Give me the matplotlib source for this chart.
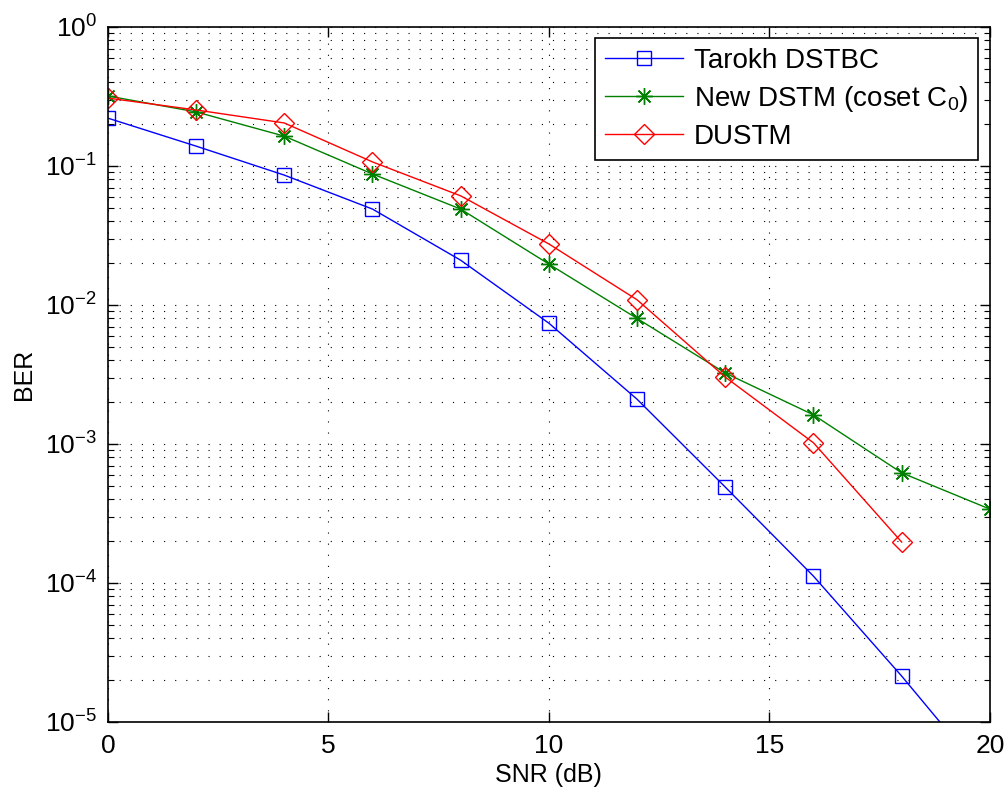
import numpy as np
import matplotlib.pyplot as plt
from matplotlib.ticker import LogLocator, NullFormatter, MultipleLocator

plt.rcParams['font.family'] = ['Liberation Sans', 'DejaVu Sans']
plt.rcParams['mathtext.fontset'] = 'custom'
plt.rcParams['mathtext.rm'] = 'Liberation Sans'
plt.rcParams['mathtext.it'] = 'Liberation Sans'

# Dados (SNR em dB)
snr = [0, 2, 4, 6, 8, 10, 12, 14, 16, 18, 20]
ber_tarokh = [0.221, 0.139, 0.086, 0.049, 0.021, 0.0074, 0.0021, 4.9e-4, 1.12e-4, 2.14e-5, 3.7e-6]
ber_dstm = [0.319, 0.245, 0.164, 0.0876, 0.049, 0.0197, 0.0080, 0.00324, 0.00162, 6.2e-4, 3.4e-4]
snr_dustm = [0, 2, 4, 6, 8, 10, 12, 14, 16, 18]
ber_dustm = [0.308, 0.253, 0.204, 0.107, 0.061, 0.0275, 0.0109, 0.00303, 0.00102, 1.97e-4]

fig = plt.figure(figsize=(10.08, 7.94), dpi=100)
ax = fig.add_axes([0.107, 0.0907, 0.875, 0.8753])

ax.semilogy(snr, ber_tarokh, '-', color=(0, 0, 1), marker='s', markersize=10,
            markerfacecolor='none', markeredgewidth=1, linewidth=1, label='Tarokh DSTBC')
ax.semilogy(snr, ber_dstm, '-', color=(0, 0.5, 0), marker=(8, 2, 0), markersize=12,
            markeredgewidth=1, linewidth=1, label='New DSTM (coset C$_0$)')
ax.semilogy(snr_dustm, ber_dustm, '-', color=(1, 0, 0), marker='D', markersize=10,
            markerfacecolor='none', markeredgewidth=1, linewidth=1, label='DUSTM')

ax.set_xlim(0, 20)
ax.set_ylim(1e-5, 1)
ax.xaxis.set_major_locator(MultipleLocator(5))
ax.yaxis.set_major_locator(LogLocator(base=10, numticks=10))
ax.yaxis.set_minor_locator(LogLocator(base=10, subs=np.arange(2, 10), numticks=20))
ax.yaxis.set_minor_formatter(NullFormatter())

# Grade pontilhada estilo MATLAB
ax.grid(True, which='major', axis='both', color='k', linewidth=0.8, dashes=(1, 9))
ax.grid(True, which='minor', axis='y', color='k', linewidth=0.8, dashes=(1, 9))

ax.tick_params(which='both', direction='in', top=True, right=True, labelsize=19)
ax.tick_params(which='major', length=7, width=1)
ax.tick_params(which='minor', length=4, width=0.8)
ax.tick_params(axis='x', which='major', pad=9)
ax.tick_params(axis='y', which='major', pad=8)
for s in ax.spines.values():
    s.set_linewidth(1.2)

ax.set_xlabel('SNR (dB)', fontsize=18, labelpad=3)
ax.set_ylabel('BER', fontsize=18, labelpad=6)

leg = ax.legend(loc='upper right', bbox_to_anchor=(0.9865, 0.984), fontsize=20,
                fancybox=False, framealpha=1, edgecolor='k', borderaxespad=0,
                handlelength=2.8, handletextpad=0.4, labelspacing=0.36, borderpad=0.35)
leg.get_frame().set_linewidth(1.2)

fig.savefig('out.png', dpi=100)
